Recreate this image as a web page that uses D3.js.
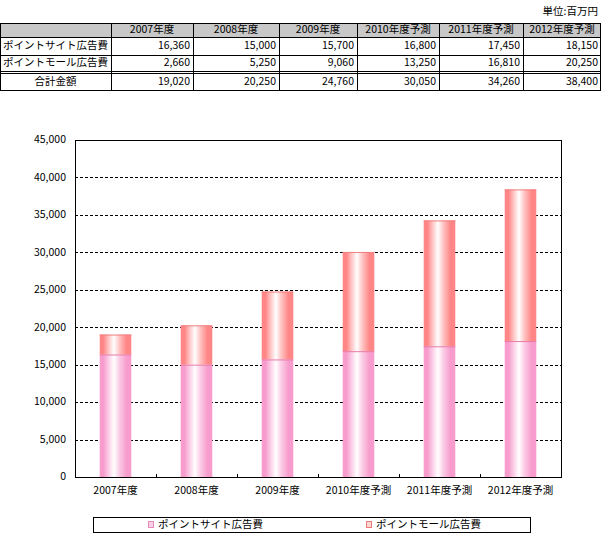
<!DOCTYPE html>
<html>
<head>
<meta charset="utf-8">
<script src="https://cdn.jsdelivr.net/npm/d3@7"></script>
<style>
  body { margin: 0; background: #fff; }
  svg text { font-family: "MS PGothic", "Noto Sans CJK JP", sans-serif; font-size: 10.5px; fill: #000; }
</style>
</head>
<body>
<svg id="chart" width="602" height="546"></svg>
<script>
// data (unit: million yen)
const categories = ["2007年度", "2008年度", "2009年度", "2010年度予測", "2011年度予測", "2012年度予測"];
const siteAds = [16360, 15000, 15700, 16800, 17450, 18150];
const mallAds = [2660, 5250, 9060, 13250, 16810, 20250];
const totals = [19020, 20250, 24760, 30050, 34260, 38400];
const seriesNames = ["ポイントサイト広告費", "ポイントモール広告費"];
const totalLabel = "合計金額";
const unitLabel = "単位:百万円";
const yTicks = [0, 5000, 10000, 15000, 20000, 25000, 30000, 35000, 40000, 45000];

const svg = d3.select("#chart");
const fmt = d3.format(",");

// horizontal "tube" gradients, white near the middle
const defs = svg.append("defs");
function grad(id, edge, mid) {
  const g = defs.append("linearGradient").attr("id", id)
    .attr("x1", "0%").attr("x2", "100%").attr("y1", "0%").attr("y2", "0%");
  [[0, edge], [0.12, edge], [0.28, mid], [0.45, "#ffffff"], [0.62, mid], [0.85, edge], [1, edge]]
    .forEach(s => g.append("stop").attr("offset", s[0]).attr("stop-color", s[1]));
}
grad("gPink", "#f79ccd", "#fbcde6");
grad("gRed", "#ff8686", "#ffc4c4");

// ---- table ----
const colX = [0, 111, 193, 279, 357, 439, 523, 601];
const rowY = [23, 37, 55, 71, 73, 90];
const table = svg.append("g").attr("class", "table");

table.append("text").attr("x", 598).attr("y", 12)
  .attr("text-anchor", "end").attr("dominant-baseline", "middle").text(unitLabel);

table.append("rect").attr("x", colX[0]).attr("y", rowY[0])
  .attr("width", colX[7] - colX[0]).attr("height", rowY[1] - rowY[0]).attr("fill", "#c8c8c8");

const rows = [
  { label: null, cells: categories, top: rowY[0], bot: rowY[1], header: true },
  { label: seriesNames[0], cells: siteAds.map(fmt), top: rowY[1], bot: rowY[2] },
  { label: seriesNames[1], cells: mallAds.map(fmt), top: rowY[2], bot: rowY[3] },
  { label: totalLabel, cells: totals.map(fmt), top: rowY[4], bot: rowY[5] }
];

rows.forEach(r => {
  const cy = (r.top + r.bot) / 2 + 0.5;
  if (r.label) {
    table.append("text").attr("x", (colX[0] + colX[1]) / 2).attr("y", cy)
      .attr("text-anchor", "middle").attr("dominant-baseline", "middle").text(r.label);
  }
  r.cells.forEach((c, i) => {
    table.append("text")
      .attr("x", r.header ? (colX[i + 1] + colX[i + 2]) / 2 : colX[i + 2] - 3)
      .attr("y", cy)
      .attr("text-anchor", r.header ? "middle" : "end")
      .attr("dominant-baseline", "middle")
      .text(c);
  });
});

// table lines
rowY.forEach(yy => {
  table.append("line").attr("x1", 0).attr("x2", 601).attr("y1", yy + 0.5).attr("y2", yy + 0.5)
    .attr("stroke", "#000");
});
colX.forEach(xx => {
  table.append("line").attr("x1", Math.min(xx, 600) + 0.5).attr("x2", Math.min(xx, 600) + 0.5)
    .attr("y1", rowY[0]).attr("y2", rowY[5])
    .attr("stroke", "#000");
});

// ---- chart ----
const plotL = 75, plotR = 561, plotT = 140, plotB = 477;
const x = d3.scaleBand().domain(categories).range([plotL, plotR]).padding(0);
const y = d3.scaleLinear().domain([0, 45000]).range([plotB, plotT]);
const barW = x.bandwidth() * 0.39;

const plot = svg.append("g");

// dashed gridlines
plot.selectAll("line.grid").data(yTicks.filter(t => t > 0 && t < 45000)).enter()
  .append("line").attr("class", "grid")
  .attr("x1", plotL).attr("x2", plotR)
  .attr("y1", d => Math.round(y(d)) + 0.5).attr("y2", d => Math.round(y(d)) + 0.5)
  .attr("stroke", "#000").attr("stroke-dasharray", "3,2");

// bars
const stacks = categories.map((c, i) => ({ c, site: siteAds[i], mall: mallAds[i] }));
const bars = plot.selectAll("g.bar").data(stacks).enter().append("g").attr("class", "bar");
const bx = d => x(d.c) + (x.bandwidth() - barW) / 2;

bars.append("rect")
  .attr("x", bx)
  .attr("width", barW)
  .attr("y", d => y(d.site))
  .attr("height", d => y(0) - y(d.site))
  .attr("fill", "url(#gPink)");

bars.append("rect")
  .attr("x", bx)
  .attr("width", barW)
  .attr("y", d => y(d.site + d.mall))
  .attr("height", d => y(d.site) - y(d.site + d.mall))
  .attr("fill", "url(#gRed)");

bars.append("line")
  .attr("x1", bx).attr("x2", d => bx(d) + barW)
  .attr("y1", d => y(d.site + d.mall) + 0.5).attr("y2", d => y(d.site + d.mall) + 0.5)
  .attr("stroke", "#f08080");

bars.append("line")
  .attr("x1", bx).attr("x2", d => bx(d) + barW)
  .attr("y1", d => y(d.site) + 0.5).attr("y2", d => y(d.site) + 0.5)
  .attr("stroke", "#e87aa8");

// frame
plot.append("rect").attr("x", plotL + 0.5).attr("y", plotT + 0.5)
  .attr("width", plotR - plotL).attr("height", plotB - plotT)
  .attr("fill", "none").attr("stroke", "#000");

// y labels
plot.selectAll("text.ylab").data(yTicks).enter().append("text")
  .attr("x", 66).attr("y", d => y(d) + 0.5)
  .attr("text-anchor", "end").attr("dominant-baseline", "middle")
  .text(d => fmt(d));

// category ticks
const bounds = categories.slice(1).map(c => x(c)).concat([plotR]);
plot.selectAll("line.xtick").data(bounds).enter().append("line")
  .attr("x1", d => Math.round(d) + 0.5).attr("x2", d => Math.round(d) + 0.5)
  .attr("y1", plotB).attr("y2", plotB - 3)
  .attr("stroke", "#000");

// x labels
plot.selectAll("text.xlab").data(categories).enter().append("text")
  .attr("x", d => x(d) + x.bandwidth() / 2).attr("y", 491)
  .attr("text-anchor", "middle").attr("dominant-baseline", "middle")
  .text(d => d);

// ---- legend ----
const legend = svg.append("g");
legend.append("rect").attr("x", 93.5).attr("y", 517.5).attr("width", 437).attr("height", 15)
  .attr("fill", "#fff").attr("stroke", "#000");
const legItems = [
  { name: seriesNames[0], x: 148, fill: "#fbd0e6", stroke: "#e58cbc" },
  { name: seriesNames[1], x: 366, fill: "#ffd6d6", stroke: "#f07878" }
];
legItems.forEach(it => {
  legend.append("rect").attr("x", it.x + 0.5).attr("y", 521.5).attr("width", 5).attr("height", 6)
    .attr("fill", it.fill).attr("stroke", it.stroke);
  legend.append("text").attr("x", it.x + 10).attr("y", 525.5)
    .attr("dominant-baseline", "middle").text(it.name);
});
</script>
</body>
</html>
